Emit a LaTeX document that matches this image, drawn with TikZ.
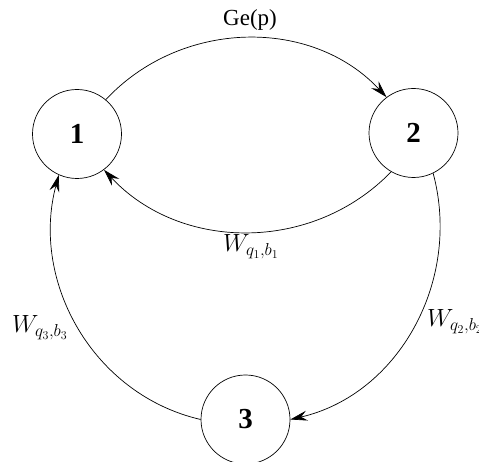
\documentclass[tikz,border=0pt]{standalone}
\usepackage[no-math]{fontspec}
\setmainfont{Liberation Serif}
\usetikzlibrary{arrows.meta}
\begin{document}
\begin{tikzpicture}[x=1pt,y=1pt,
  state/.style={draw,circle,line width=0.7pt,minimum size=89pt,inner sep=0pt,
    font=\fontsize{29}{32}\selectfont\bfseries},
  edge/.style={line width=0.7pt,-{Stealth[length=17pt,width=10pt,inset=6pt]}},
  lbl/.style={inner sep=0pt,anchor=base,font=\fontsize{23}{26}\selectfont},
  mlbl/.style={inner sep=0pt,anchor=base,font=\fontsize{24}{28}\selectfont}]
\useasboundingbox (0,0) rectangle (479,462);
\node[state] (n1) at (77,328) {1};
\node[state] (n2) at (413.5,329) {2};
\node[state] (n3) at (245.5,42.5) {3};
\draw[edge] (n1.50) to[out=47,in=133] (n2.127);
\draw[edge] (n2.240) to[out=226,in=313] (n1.307);
\draw[edge] (n2.-64) to[out=-75,in=13] (n3.east);
\draw[edge] (n3.west) to[out=167,in=255] (n1.246);
\node[lbl] (l12) at (250,436) {Ge(p)};
\node[mlbl] (l21) at (251,210) {$W_{q_1,b_1}$};
\node[mlbl,anchor=base west] (l23) at (427,135) {$W_{q_2,b_2}$};
\node[mlbl] (l31) at (40,129) {$W_{q_3,b_3}$};
\end{tikzpicture}
\end{document}
